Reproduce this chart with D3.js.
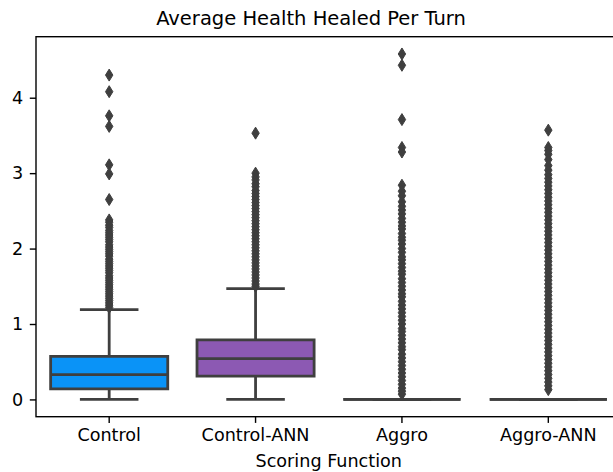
<!DOCTYPE html>
<html>
<head>
<meta charset="utf-8">
<script src="https://cdn.jsdelivr.net/npm/d3@7"></script>
<style>
	body { margin: 0; background: #fff; }
	text { font-family: "DejaVu Sans", sans-serif; fill: #000; }
</style>
</head>
<body>
<div id="chart"></div>
<script>
var categories = ["Control", "Control-ANN", "Aggro", "Aggro-ANN"];
var boxColors = ["#0a93f7", "#8c59b3", "#3f3f3f", "#3f3f3f"];

// box statistics
var q1 = [0.14, 0.31, 0, 0];
var medians = [0.33, 0.54, 0, 0];
var q3 = [0.57, 0.79, 0, 0];
var whiskerLow = [0, 0, 0, 0];
var whiskerHigh = [1.19, 1.47, 0, 0];

// outliers (fliers) per category
var controlFliers = [4.30, 4.08, 3.76, 3.62, 3.11, 2.99, 2.65, 2.38, 2.35, 2.31, 2.28, 2.24, 2.21, 2.18, 2.15, 2.12,
	2.09, 2.05, 2.02, 1.99, 1.96, 1.93, 1.90, 1.86, 1.83, 1.80, 1.77, 1.74, 1.71, 1.68, 1.64, 1.61, 1.58, 1.55,
	1.52, 1.49, 1.46, 1.43, 1.40, 1.37, 1.34, 1.31, 1.28, 1.25, 1.22];
var controlAnnFliers = [3.53, 3.00, 2.95, 2.91, 2.86, 2.82, 2.77, 2.73, 2.69, 2.65, 2.61, 2.57, 2.53, 2.49, 2.45,
	2.41, 2.37, 2.33, 2.29, 2.25, 2.21, 2.17, 2.13, 2.09, 2.05, 2.01, 1.97, 1.93, 1.89, 1.85, 1.81, 1.77, 1.73,
	1.69, 1.65, 1.61, 1.57, 1.53, 1.50];
var aggroFliers = [4.58, 4.43, 3.71, 3.34, 3.28, 2.84, 2.76, 2.70, 2.62, 2.56, 2.51, 2.46, 2.40, 2.35, 2.30, 2.26,
	2.20, 2.15, 2.11, 2.06, 2.00, 1.95, 1.89, 1.85, 1.80, 1.75, 1.70, 1.66, 1.60, 1.55, 1.50, 1.45, 1.40, 1.36,
	1.30, 1.25, 1.20, 1.15, 1.10, 1.05, 1.00, 0.94, 0.90, 0.85, 0.80, 0.75, 0.70, 0.66, 0.60, 0.55, 0.50, 0.45,
	0.40, 0.35, 0.30, 0.25, 0.20, 0.15, 0.11, 0.07];
var aggroAnnFliers = [3.57, 3.34, 3.30, 3.25, 3.18, 3.10, 3.04, 2.98, 2.93, 2.88, 2.83, 2.78, 2.73, 2.68, 2.63,
	2.58, 2.53, 2.48, 2.43, 2.38, 2.33, 2.28, 2.23, 2.18, 2.13, 2.08, 2.03, 1.98, 1.93, 1.88, 1.83, 1.78, 1.73,
	1.68, 1.63, 1.58, 1.53, 1.48, 1.43, 1.38, 1.33, 1.28, 1.23, 1.18, 1.13, 1.08, 1.03, 0.98, 0.93, 0.88, 0.83,
	0.78, 0.73, 0.68, 0.63, 0.58, 0.53, 0.48, 0.43, 0.38, 0.33, 0.28, 0.23, 0.18, 0.13];
var fliers = [controlFliers, controlAnnFliers, aggroFliers, aggroAnnFliers];

var yTicks = [0, 1, 2, 3, 4];

var width = 613, height = 472;
var margins = {top: 36.7, right: -8.5, bottom: 55.3, left: 36};
var chart = {
	width: width - margins.left - margins.right,
	height: height - margins.top - margins.bottom
};

var svg = d3.select("#chart").append("svg")
	.attr("width", width)
	.attr("height", height);
var g = svg.append("g")
	.attr("transform", "translate(" + margins.left + "," + margins.top + ")");

var boxes = categories.map(function(c, i){
	return {key: c, i: i, q1: q1[i], med: medians[i], q3: q3[i], lo: whiskerLow[i], hi: whiskerHigh[i], fliers: fliers[i], color: boxColors[i]};
});

// matplotlib style 5% margin on y
var allVals = d3.merge(fliers).concat(whiskerLow, whiskerHigh);
var yMin = d3.min(allVals), yMax = d3.max(allVals);
var pad = (yMax - yMin) * 0.05;

var x = d3.scaleBand()
	.domain(categories)
	.range([0, chart.width])
	.padding(0);
var y = d3.scaleLinear()
	.domain([yMin - pad, yMax + pad])
	.range([chart.height, 0]);

var boxW = x.bandwidth() * 0.8;
var capW = boxW * 0.5;
var lineColor = "#3f3f3f";
var lw = 2.8;

function cx(d){ return x(d.key) + x.bandwidth() / 2; }

var bg = g.selectAll("g.box").data(boxes).enter().append("g").attr("class", "box");

// whiskers
bg.append("line")
	.attr("x1", cx).attr("x2", cx)
	.attr("y1", function(d){ return y(d.q1); })
	.attr("y2", function(d){ return y(d.lo); })
	.attr("stroke", lineColor).attr("stroke-width", lw);
bg.append("line")
	.attr("x1", cx).attr("x2", cx)
	.attr("y1", function(d){ return y(d.q3); })
	.attr("y2", function(d){ return y(d.hi); })
	.attr("stroke", lineColor).attr("stroke-width", lw);

// box body (path so a collapsed box still draws as a line)
bg.append("path")
	.attr("d", function(d){
		var x0 = cx(d) - boxW / 2, x1 = cx(d) + boxW / 2;
		return "M" + x0 + "," + y(d.q3) + "H" + x1 + "V" + y(d.q1) + "H" + x0 + "Z";
	})
	.attr("fill", function(d){ return d.color; })
	.attr("stroke", lineColor)
	.attr("stroke-width", lw);

// caps
[ "lo", "hi" ].forEach(function(k){
	bg.append("line")
		.attr("x1", function(d){ return cx(d) - capW / 2; })
		.attr("x2", function(d){ return cx(d) + capW / 2; })
		.attr("y1", function(d){ return y(d[k]); })
		.attr("y2", function(d){ return y(d[k]); })
		.attr("stroke", lineColor).attr("stroke-width", lw);
});

// medians
bg.append("line")
	.attr("x1", function(d){ return cx(d) - boxW / 2; })
	.attr("x2", function(d){ return cx(d) + boxW / 2; })
	.attr("y1", function(d){ return y(d.med); })
	.attr("y2", function(d){ return y(d.med); })
	.attr("stroke", lineColor).attr("stroke-width", lw);

// fliers as thin diamonds
var dh = 6.0, dw = 3.7;
bg.each(function(d){
	d3.select(this).selectAll("path.flier")
		.data(d.fliers)
		.enter().append("path")
		.attr("class", "flier")
		.attr("d", function(v){
			var px = cx(d), py = y(v);
			return "M" + px + "," + (py - dh) + "L" + (px + dw) + "," + py + "L" + px + "," + (py + dh) + "L" + (px - dw) + "," + py + "Z";
		})
		.attr("fill", lineColor)
		.attr("stroke", lineColor)
		.attr("stroke-width", 1);
});

// axes
var xAxis = g.append("g")
	.attr("transform", "translate(0," + chart.height + ")")
	.call(d3.axisBottom(x).tickSizeOuter(0).tickSize(6.2).tickPadding(6));
var yAxis = g.append("g")
	.call(d3.axisLeft(y).tickValues(yTicks).tickFormat(d3.format("d")).tickSizeOuter(0).tickSize(6.2).tickPadding(6.5));
[xAxis, yAxis].forEach(function(a){
	a.select(".domain").remove();
	a.selectAll(".tick line").attr("stroke", "#000").attr("stroke-width", 1.4);
	a.selectAll(".tick text").attr("font-size", "17.6px").attr("fill", "#000");
});

// spines
g.append("rect")
	.attr("x", 0).attr("y", 0)
	.attr("width", chart.width).attr("height", chart.height)
	.attr("fill", "none")
	.attr("stroke", "#000")
	.attr("stroke-width", 1.4);

// title (figure-centred) + x label
svg.append("text")
	.attr("x", 311)
	.attr("y", 25)
	.attr("text-anchor", "middle")
	.attr("font-size", "19.5px")
	.text("Average Health Healed Per Turn");
svg.append("text")
	.attr("x", margins.left + chart.width / 2)
	.attr("y", 467)
	.attr("text-anchor", "middle")
	.attr("font-size", "17.6px")
	.text("Scoring Function");
</script>
</body>
</html>
